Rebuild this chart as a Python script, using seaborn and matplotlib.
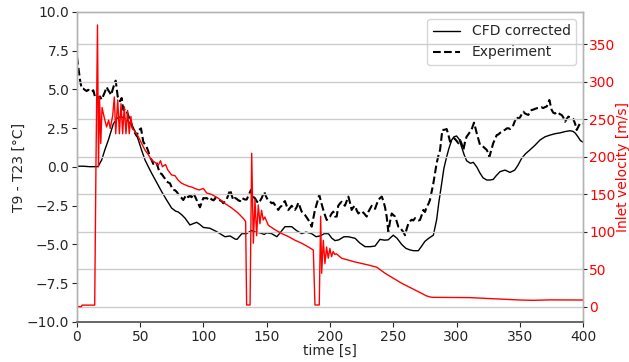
import numpy as np
import matplotlib
matplotlib.use("Agg")
import matplotlib.pyplot as plt
import seaborn as sns

# ---------------- data ----------------
cfd_t = [0, 5, 10, 16.5, 19.5, 22, 24.8, 28.8, 32.7, 35, 37.9, 40.5, 43.2, 46, 48.5, 51, 53.8, 56.5, 59, 63,
         67, 71, 74.8, 78, 80, 83, 85.4, 89.3, 92, 94.6, 97, 99.9, 105, 110.4, 117, 121, 125, 126.5, 130.3, 134,
         138, 141, 144.7, 148, 150, 153.9, 158, 161, 164.4, 169.7, 173.5, 177.6, 181, 185.5, 189, 192, 195.5, 198.7, 201.5, 204,
         207, 211, 214.5, 219.8, 223.5, 227.7, 232, 235.6, 239.5, 243, 246, 250, 253, 256.7, 260, 263.2, 266, 269.8, 272.5, 275,
         278, 281.7, 284.3, 286, 288.3, 290, 292.2, 294, 296.2, 298, 300, 302, 304, 306, 308, 311, 313.3, 316, 318.6, 321,
         323.9, 326.5, 329, 331.5, 334.4, 338.3, 342.3, 346, 348.5, 351.5, 354.5, 358, 362, 366, 370, 374, 378, 381.8, 385.5, 389.7,
         392, 393.7, 396, 398, 400]
cfd_T = [0.05, 0.05, 0.02, 0.02, 0.45, 1.1, 1.74, 2.8, 3.2, 3.25, 3.1, 2.95, 2.7, 2.3, 1.74, 1.1, 0.45, 0.0, -0.4, -1.0,
         -1.6, -2.15, -2.65, -2.85, -2.9, -3.1, -3.3, -3.74, -3.65, -3.57, -3.7, -3.9, -3.95, -4.17, -4.5, -4.45, -4.65, -4.67, -4.3, -4.3,
         -4.1, -4.2, -4.25, -4.35, -4.25, -4.3, -4.5, -4.2, -3.85, -3.85, -4.1, -4.3, -4.2, -4.3, -4.5, -4.45, -4.3, -4.3, -4.6, -4.75,
         -4.7, -4.5, -4.5, -4.6, -4.9, -5.14, -5.14, -5.1, -4.67, -4.72, -4.7, -4.4, -4.6, -5.0, -5.25, -5.35, -5.4, -5.4, -5.1, -4.8,
         -4.6, -4.4, -3.4, -2.3, -1.05, -0.1, 0.66, 1.2, 1.74, 1.95, 2.0, 1.8, 1.3, 0.8, 0.4, 0.24, 0.3, 0.0, -0.4, -0.7,
         -0.84, -0.84, -0.8, -0.55, -0.3, -0.2, -0.35, -0.2, 0.1, 0.56, 0.85, 1.1, 1.4, 1.74, 1.95, 2.06, 2.15, 2.2, 2.28, 2.34,
         2.3, 2.2, 1.95, 1.7, 1.6]

exp_t = [0, 1, 2.4, 3.7, 5, 6.3, 7.6, 8.9, 10.3, 11.6, 12.9, 14.2, 15.5, 16.9, 18.2, 19.5, 20.8, 22.1, 23.4, 24.7,
         26, 26.9, 28.8, 30.6, 32.2, 34, 35.3, 36.6, 38, 39.3, 40.6, 41.9, 43.2, 44.5, 45.8, 47.2, 48.5, 50.6, 52.4, 53.7,
         55, 56.4, 57.7, 59, 60.3, 61.6, 63, 64.3, 65.6, 66.9, 68.2, 69.5, 70.9, 72.2, 73.5, 74.8, 76.1, 77.5, 78.8, 80.1,
         81.4, 82.7, 84, 85.3, 86.7, 88, 89.3, 90.6, 92, 93.3, 94.6, 95.9, 97.2, 98.5, 99.9, 101.2, 102.5, 104, 105.2, 106.5,
         108, 109.3, 110.5, 111.7, 113, 114.3, 115.7, 117, 118.3, 119.6, 121, 122.2, 123.5, 124.8, 126.2, 127.5, 128.9, 130.2, 131.5, 132.8,
         134.1, 135.8, 137.5, 139, 140.7, 142, 143.3, 144.6, 146, 147.3, 148, 149.4, 150.7, 152.3, 153.9, 155.2, 156.5, 157.8, 159.1, 160.4,
         161.8, 163.1, 164.4, 165.7, 167, 168.3, 169.7, 171, 172.3, 173.6, 175, 176.3, 177.6, 180.3, 182.9, 184.2, 185.5, 186.8, 188.1, 189.8,
         191.5, 193.1, 194.7, 196, 197.4, 198.7, 200, 201.3, 202.6, 204, 205.3, 206.5, 208, 209.2, 210.5, 211.8, 213.2, 214.5, 215.8, 217.1,
         218.4, 219.8, 221.1, 222.4, 223.7, 225, 227, 229, 230.3, 231.6, 233, 234.3, 235.6, 236.9, 238.2, 239.6, 240.9, 242.2, 243.5, 244.8,
         246.1, 247.5, 248.8, 250.1, 251.4, 252.7, 254, 255.4, 256.7, 258, 259.3, 260.6, 262, 263.3, 264.6, 265.9, 267.2, 268.5, 269.8, 271.1,
         272.5, 273.8, 275.1, 276.4, 277.7, 279, 280.3, 281.7, 283, 284.3, 285.6, 287, 288.8, 290.5, 292.2, 293.5, 294.9, 296.6, 298.3, 299.9,
         301.5, 302.8, 304, 305.4, 306.7, 308, 309.3, 310.7, 312.3, 313.8, 315, 316, 317.3, 318.6, 320, 321.2, 322.6, 323.9, 325, 326,
         327.5, 329, 330.4, 331.8, 333.1, 334.4, 335.7, 337, 338.4, 339.7, 341, 342.3, 343.6, 344.9, 346.3, 347.6, 348.9, 350.2, 351.5, 352.8,
         354.2, 355.5, 356.8, 358, 359.4, 360.7, 362, 363.4, 364.7, 366, 367.3, 368.6, 370, 371.3, 372.4, 373.4, 374.3, 375.2, 376.5, 377.9,
         379.2, 380.5, 381.8, 383.1, 384.4, 385.8, 387.1, 388.4, 389.7, 391, 392.3, 393.7, 395, 396.3, 397.6, 398.9, 400]
exp_T = [7.1, 6.47, 5.6, 5.07, 5.05, 4.97, 4.9, 4.98, 4.88, 4.85, 4.95, 4.54, 4.6, 4.44, 4.55, 4.35, 4.6, 4.85, 5.16, 4.95,
         4.8, 4.64, 5.16, 5.57, 4.54, 4.24, 4.45, 3.68, 3.75, 3.6, 3.3, 3.03, 2.75, 2.39, 2.2, 2.0, 2.35, 2.49, 1.63, 1.45,
         1.3, 1.0, 0.66, 0.45, 0.2, 0.3, 0.25, -0.1, -0.4, -0.45, -0.6, -0.75, -0.94, -1.0, -1.05, -1.3, -1.48, -1.5, -1.6, -1.75,
         -1.91, -2.0, -2.13, -1.95, -1.8, -1.95, -1.85, -1.95, -1.7, -1.9, -2.13, -2.35, -2.6, -2.3, -2.0, -2.02, -2.0, -2.1, -2.0, -2.1,
         -2.15, -2.0, -2.05, -2.1, -2.15, -2.2, -2.34, -2.2, -2.1, -1.8, -1.48, -1.8, -2.13, -2.0, -2.05, -2.15, -2.2, -2.0, -2.05, -2.1,
         -2.1, -1.8, -1.48, -1.9, -2.02, -2.2, -2.34, -2.2, -2.0, -1.75, -1.6, -1.9, -2.1, -2.2, -2.34, -2.3, -2.45, -2.6, -2.77, -2.6,
         -2.5, -2.3, -2.2, -2.5, -2.77, -2.65, -2.5, -2.65, -2.77, -2.6, -2.3, -2.6, -2.88, -3.1, -3.42, -3.6, -3.85, -3.3, -2.77, -2.3,
         -1.8, -2.3, -2.77, -3.1, -3.42, -3.3, -3.2, -3.0, -2.88, -3.2, -3.2, -2.5, -2.34, -2.24, -2.4, -2.5, -2.2, -1.91, -2.3, -2.77,
         -2.6, -2.5, -2.8, -3.0, -2.9, -2.85, -3.0, -3.2, -2.9, -2.7, -2.5, -2.6, -2.7, -2.4, -2.13, -2.0, -1.91, -2.2, -2.6, -3.2,
         -4.17, -3.5, -3.0, -3.1, -3.2, -3.5, -3.85, -3.9, -4.06, -4.2, -4.4, -4.0, -3.63, -3.5, -3.4, -3.45, -3.3, -3.4, -3.45, -3.42,
         -3.1, -2.77, -2.9, -2.56, -2.4, -2.13, -1.6, -1.05, -0.4, 0.24, 0.7, 1.1, 2.39, 2.4, 2.45, 2.1, 1.63, 1.7, 1.85, 1.7,
         1.53, 1.74, 1.5, 1.1, 1.6, 1.96, 2.1, 2.27, 2.5, 2.86, 2.5, 2.17, 1.8, 1.42, 1.35, 1.3, 1.2, 1.1, 0.9, 0.66,
         1.1, 1.53, 1.8, 2.06, 2.1, 2.2, 2.27, 2.35, 2.4, 2.49, 2.5, 2.45, 2.6, 2.7, 3.0, 3.25, 3.1, 3.2, 3.4, 3.57,
         3.45, 3.4, 3.36, 3.55, 3.68, 3.7, 3.75, 3.79, 3.8, 3.82, 3.85, 3.8, 3.87, 3.9, 4.1, 4.32, 4.0, 3.68, 3.5, 3.45,
         3.55, 3.5, 3.4, 3.36, 3.2, 2.92, 3.1, 3.25, 3.2, 3.15, 3.1, 2.8, 2.39, 2.6, 2.81, 2.8, 2.8]

vel_t = [0, 3.5, 4, 14, 15, 16.2, 17.0, 17.8, 18.8, 19.8, 21.6, 23.4, 25, 26.3, 28.2, 29.5, 30.6, 32.2, 33.5, 34.8,
         36.1, 37.4, 38.7, 40, 41.3, 42.6, 43.8, 45.8, 48.5, 51.1, 53.8, 56.4, 59, 61.5, 64.3, 66, 67.5, 70, 71.7, 74.8,
         77.5, 80, 82.7, 85.3, 88, 90.5, 93.3, 96.5, 99.9, 102.5, 106.5, 111.7, 117, 122.3, 127.5, 131.5, 133.3, 134.1, 136.8, 138.1,
         139.4, 140.7, 142, 143.3, 144.6, 145.9, 147.2, 148.5, 151.2, 156.5, 161.8, 167, 172.3, 177.6, 182.9, 186.8, 188.1, 191.5, 192.6, 193.4,
         194.7, 196, 197.3, 198.6, 199.9, 201.2, 202.5, 203.8, 205, 209.2, 219.8, 230.3, 237, 243.5, 256.7, 269.8, 276.4, 280.4, 310.7, 329,
         350.2, 360.7, 374, 400]
vel_v = [0.5, 0.5, 2.5, 2.5, 190, 376, 187, 280, 218, 266, 252, 240, 249, 238, 255, 280, 231, 276, 231, 271,
         231, 267, 231, 262, 231, 254, 238, 234, 227, 218, 209, 203, 196, 193, 189, 195, 187, 190, 183, 176,
         175, 169, 165, 163, 161, 160, 158, 156, 158, 152, 150, 145, 138, 132, 125, 118, 114, 2.7, 2.7, 205,
         85, 143, 95, 136, 111, 129, 116, 120, 109, 103, 98, 94, 89, 85, 80, 76, 2.7, 2.7, 121, 45,
         89, 58, 80, 65, 78, 67, 74, 70, 71, 65, 60, 56, 53, 45, 31.6, 20.4, 14.7, 12.9, 12.5, 11,
         9.3, 8.9, 9.5, 9.3]

x_ticks = [0, 50, 100, 150, 200, 250, 300, 350, 400]
temp_ticks = [-10.0, -7.5, -5.0, -2.5, 0.0, 2.5, 5.0, 7.5, 10.0]
vel_ticks = [0, 50, 100, 150, 200, 250, 300, 350]

# ---------------- style ----------------
sns.set_style("whitegrid", {
    "axes.edgecolor": "0.7",
    "grid.color": "0.8",
    "xtick.bottom": True,
    "ytick.left": True,
    "xtick.color": "0.15",
    "ytick.color": "0.15",
})
plt.rcParams.update({
    "font.family": ["DejaVu Sans"],
    "xtick.major.size": 3.5,
    "ytick.major.size": 3.5,
    "xtick.major.width": 0.8,
    "ytick.major.width": 0.8,
    "axes.linewidth": 1.0,
})

fig = plt.figure(figsize=(6.29, 3.62), dpi=100)
ax1 = fig.add_axes([0.1224, 0.1105, 0.8045, 0.8564])
ax2 = ax1.twinx()

sns.lineplot(x=cfd_t, y=cfd_T, ax=ax1, color="black", linewidth=1.0,
             label="CFD corrected", sort=False, estimator=None)
sns.lineplot(x=exp_t, y=exp_T, ax=ax1, color="black", linewidth=1.5, linestyle="--",
             label="Experiment", sort=False, estimator=None)
sns.lineplot(x=vel_t, y=vel_v, ax=ax2, color="red", linewidth=1.0,
             sort=False, estimator=None, legend=False)

ax1.set_xlim(0, 400)
ax1.set_ylim(-10, 10)
ax2.set_ylim(-20, 393.3)
ax1.set_xticks(x_ticks)
ax1.set_yticks(temp_ticks)
ax1.set_yticklabels([f"{v:.1f}".replace("-", "\u2212") for v in temp_ticks])
ax2.set_yticks(vel_ticks)

ax1.grid(False)
ax2.grid(False)
ax2.yaxis.grid(True, color="0.8", linewidth=1.0)

ax1.set_xlabel("time [s]", fontsize=10, color="0.15", labelpad=0)
ax1.set_ylabel("T9 - T23 [°C]", fontsize=10, color="0.15", labelpad=0.5)
ax2.set_ylabel("Inlet velocity [m/s]", fontsize=10, color="red", labelpad=0)
ax1.tick_params(axis="both", labelsize=10, pad=2)
ax2.tick_params(axis="y", labelsize=10, labelcolor="red", pad=1.5, right=True, length=3)

for ax in (ax1, ax2):
    for name, sp in ax.spines.items():
        sp.set_color("0.7")
    ax.spines["bottom"].set_color("0.4")
    ax.spines["bottom"].set_linewidth(1.2)

leg = ax1.legend(loc="upper right", fontsize=10, frameon=True)
leg.get_frame().set_edgecolor("0.8")

fig.savefig("out.png", dpi=100)
